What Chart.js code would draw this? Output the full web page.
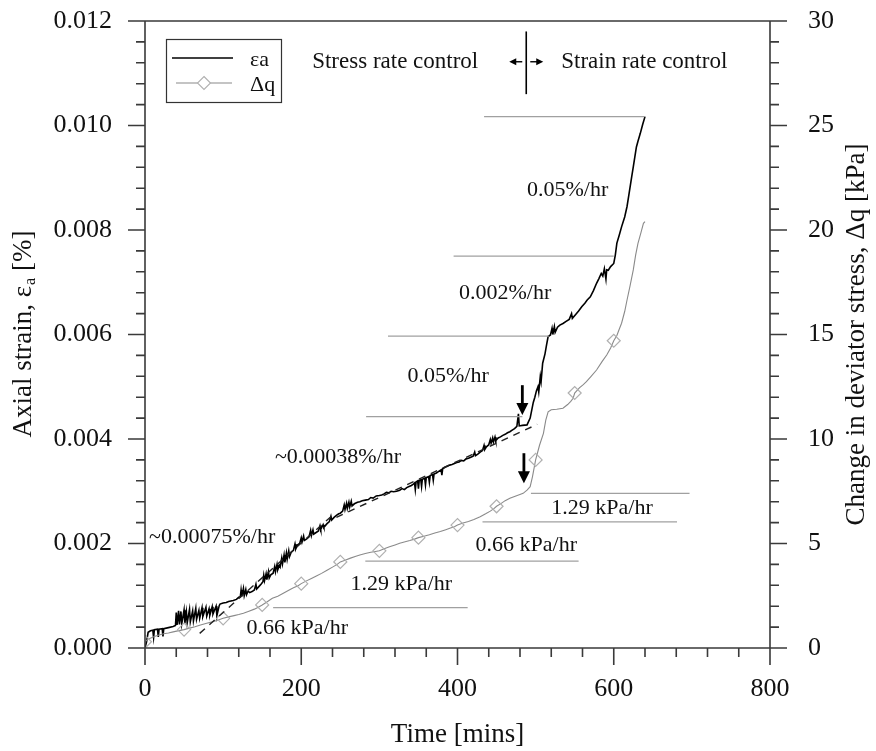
<!DOCTYPE html>
<html lang="en">
<head>
<meta charset="UTF-8">
<title>Axial strain and deviator stress vs time</title>
<script src="https://cdn.jsdelivr.net/npm/chart.js"></script>
<style>
  html, body { margin: 0; padding: 0; background: white; }
  #wrap { width: 876px; height: 751px; position: relative; }
</style>
</head>
<body>
<div id="wrap"><canvas id="grafico"></canvas></div>
<script>
// axial strain (black line), [time min, strain %]
const strainPoints = [
  [0,0],[2,0.00012],[4,0.00030],[7,0.00033],[10,0.00034],[11,0.00020],[12,0.00035],[16,0.00036],[17,0.00021],[18,0.00036],
  [22,0.00037],[23,0.00022],[24,0.00037],[30,0.00039],[36,0.00041],[39,0.00043],[40,0.00068],[41,0.00044],[43,0.00071],[44,0.00045],
  [46,0.00070],[47,0.00046],[50,0.00073],[51,0.00047],[53,0.00069],[54,0.00048],[57,0.00074],[58,0.00050],[61,0.00071],[62,0.00052],
  [65,0.00076],[66,0.00055],[69,0.00072],[70,0.00057],[73,0.00077],[74,0.00060],[78,0.00078],[79,0.00061],[82,0.00075],[83,0.00063],
  [86,0.00079],[87,0.00065],[91,0.00080],[92,0.00062],[95,0.00081],[96,0.00084],
  [100,0.00086],[104,0.00087],[107,0.00089],[110,0.00090],[113,0.00091],[117,0.00093],[120,0.00097],[122,0.00098],[123,0.00111],[124,0.00099],
  [126,0.00114],[127,0.00100],[129,0.00112],[130,0.00102],[132,0.00109],[134,0.00106],[137,0.00108],[140,0.00111],[142,0.00122],[143,0.00113],
  [146,0.00118],[149,0.00123],[151,0.00127],[152,0.00139],[153,0.00129],[155,0.00142],[156,0.00131],[158,0.00146],[159,0.00134],[161,0.00140],
  [164,0.00143],[166,0.00156],[167,0.00146],[169,0.00160],[170,0.00150],[172,0.00158],[173,0.00155],[175,0.00172],[176,0.00161],[178,0.00178],
  [179,0.00164],[181,0.00182],[182,0.00170],[184,0.00186],[185,0.00175],[187,0.00183],[190,0.00187],[192,0.00199],[193,0.00190],[195,0.00197],
  [198,0.00200],[200,0.00211],[201,0.00203],[203,0.00214],[204,0.00206],[207,0.00209],[210,0.00213],[212,0.00225],[213,0.00215],[215,0.00226],
  [216,0.00218],[219,0.00221],[222,0.00224],[224,0.00234],[225,0.00227],[228,0.00236],[229,0.00231],[233,0.00238],[236,0.00242],[238,0.00252],
  [239,0.00245],[242,0.00250],[245,0.00254],[248,0.00257],
  [250,0.00258],[253,0.00262],[255,0.00274],[256,0.00265],[258,0.00277],[259,0.00267],[261,0.00279],[262,0.00270],[264,0.00281],[265,0.00272],
  [268,0.00276],[272,0.00279],[275,0.00280],[278,0.00282],[282,0.00283],[286,0.00284],[289,0.00288],[292,0.00287],[296,0.00291],[300,0.00292],
  [303,0.00293],[306,0.00295],[309,0.00298],[312,0.00297],[315,0.00300],[318,0.00299],[322,0.00300],[326,0.00302],[329,0.00305],[332,0.00303],
  [335,0.00307],[338,0.00309],[341,0.00311],[343,0.00313],[345,0.00316],[346,0.00303],[347,0.00318],[349,0.00320],[350,0.00305],[351,0.00321],
  [353,0.00322],[354,0.00309],[355,0.00323],[358,0.00325],[359,0.00312],[360,0.00326],[363,0.00328],[364,0.00317],[365,0.00330],[368,0.00332],
  [369,0.00321],[370,0.00333],[373,0.00335],[376,0.00338],[379,0.00341],[380,0.00331],[381,0.00343],[384,0.00346],[387,0.00348],[390,0.00350],
  [393,0.00351],[396,0.00353],[399,0.00355],
  [402,0.00356],[405,0.00359],[408,0.00358],[411,0.00362],[414,0.00363],[417,0.00365],[420,0.00367],[422,0.00375],[423,0.00368],[426,0.00371],
  [429,0.00375],[432,0.00378],[434,0.00388],[435,0.00380],[437,0.00385],[440,0.00389],[442,0.00399],[443,0.00392],[445,0.00402],[446,0.00394],
  [448,0.00404],[449,0.00397],[452,0.00402],[455,0.00404],[458,0.00407],[461,0.00409],[464,0.00412],[467,0.00414],[470,0.00417],[473,0.00420],
  [476,0.00424],[478,0.00448],[479,0.00425],[483,0.00426],[489,0.00427],
  [493,0.00440],[497,0.00470],[499,0.00480],[501,0.00492],[503,0.00500],[504,0.00490],[506,0.00520],[507,0.00510],[509,0.00545],[512,0.00563],
  [514,0.00580],[516,0.00596],[519,0.00599],[521,0.00612],[522,0.00600],[524,0.00615],[525,0.00604],[528,0.00614],[531,0.00618],[535,0.00621],
  [539,0.00625],[543,0.00629],[546,0.00640],[547,0.00631],[551,0.00638],[555,0.00645],[559,0.00653],[563,0.00660],[566,0.00666],[570,0.00672],
  [574,0.00684],[578,0.00698],[581,0.00707],[584,0.00717],[586,0.00712],[588,0.00726],[590,0.00706],[591,0.00724],[593,0.00723],[596,0.00730],
  [600,0.00736],[602,0.00752],[604,0.00775],[607,0.00790],[610,0.00806],[614,0.00825],[617,0.00845],[619,0.00864],[621,0.00883],[623,0.00902],
  [625,0.00921],[627,0.00940],[629,0.00959],[631,0.00970],[634,0.00985],[637,0.01002],[640,0.01017]
];

// change in deviator stress (grey line, diamonds every 50 min), [time min, kPa]
const dqPoints = [
  [0,0.3],[3,0.4],[6,0.46],[12,0.55],[18,0.62],[24,0.68],[30,0.72],[36,0.77],[42,0.82],[50,0.88],
  [57,0.95],[64,1.02],[71,1.1],[79,1.18],[86,1.25],[93,1.33],[100,1.42],[107,1.49],[114,1.55],[120,1.6],
  [126,1.66],[133,1.76],[140,1.86],[145,1.95],[150,2.06],[156,2.2],[163,2.38],[170,2.48],[177,2.62],[184,2.76],
  [190,2.88],[196,2.98],[200,3.08],[206,3.2],[213,3.33],[220,3.46],[226,3.57],[233,3.72],[240,3.87],[246,4.0],
  [250,4.12],[256,4.2],[263,4.3],[269,4.38],[275,4.45],[282,4.52],[289,4.58],[295,4.62],[300,4.65],[307,4.76],
  [313,4.84],[320,4.93],[326,5.01],[333,5.08],[339,5.14],[345,5.21],[350,5.28],[357,5.35],[364,5.42],[371,5.5],
  [378,5.57],[385,5.66],[391,5.74],[396,5.8],[400,5.88],[407,5.98],[414,6.05],[421,6.15],[429,6.28],[436,6.42],
  [442,6.55],[447,6.68],[450,6.78],[456,6.92],[461,7.05],[467,7.16],[473,7.25],[479,7.33],[484,7.4],[489,7.55],
  [493,7.72],[496,8.2],[500,9.0],[505,9.7],[510,10.27],[513,10.9],[516,11.3],[520,11.4],[527,11.42],[535,11.47],
  [541,11.65],[545,11.8],[548,11.95],[550,12.2],[556,12.45],[561,12.6],[565,12.74],[571,13.0],[578,13.3],[585,13.7],
  [591,14.02],[596,14.35],[600,14.7],[604,14.95],[607,15.25],[610,15.54],[614,16.1],[617,16.65],[621,17.35],[625,18.09],
  [628,18.8],[631,19.36],[635,19.9],[638,20.32],[640,20.4]
];
const dqMarkerStep = 50;

// horizontal reference lines [from, to, level]
const refStrain = [[434, 639, 0.01017], [395, 600, 0.0075], [311, 517, 0.00597], [283, 483, 0.00443]];
const refDq = [[494, 697, 7.4], [432, 681, 6.03], [282, 555, 4.16], [164, 413, 1.93]];
// dashed trend lines [t0, strain0, t1, strain1]
const trendStrain = [[70, 0.00028, 240, 0.00254], [245, 0.00250, 502, 0.00428]];

// rate labels [text, time, value, axis]
const rateLabels = [
  ['0.05%/hr', 541, 0.00877, 'y'],
  ['0.002%/hr', 461, 0.00679, 'y'],
  ['0.05%/hr', 388, 0.00520, 'y'],
  ['~0.00038%/hr', 247, 0.00366, 'y'],
  ['~0.00075%/hr', 86, 0.00212, 'y'],
  ['1.29 kPa/hr', 585, 6.70, 'yR'],
  ['0.66 kPa/hr', 488, 4.93, 'yR'],
  ['1.29 kPa/hr', 328, 3.06, 'yR'],
  ['0.66 kPa/hr', 195, 0.96, 'yR']
];
// down arrows [time, from, to, axis]
const downArrows = [[483, 0.00503, 0.00446, 'y'], [485, 9.32, 7.88, 'yR']];
// control switch at top
const switchTime = 488;
const switchTop = 0.0118, switchBottom = 0.0106, switchLevel = 0.01122;

const FONT = "'Liberation Serif', 'Times New Roman', serif";
const GREY_REF = '#a0a0a0';

const datasets = [];
refStrain.forEach(r => datasets.push({
  data: [{x: r[0], y: r[2]}, {x: r[1], y: r[2]}], yAxisID: 'y',
  borderColor: GREY_REF, borderWidth: 1.3, pointRadius: 0
}));
refDq.forEach(r => datasets.push({
  data: [{x: r[0], y: r[2]}, {x: r[1], y: r[2]}], yAxisID: 'yR',
  borderColor: GREY_REF, borderWidth: 1.3, pointRadius: 0
}));
trendStrain.forEach(r => datasets.push({
  data: [{x: r[0], y: r[1]}, {x: r[2], y: r[3]}], yAxisID: 'y',
  borderColor: '#222', borderWidth: 1.4, borderDash: [7, 6], pointRadius: 0
}));
datasets.push({
  label: 'Δq',
  data: dqPoints.map(p => ({x: p[0], y: p[1]})), yAxisID: 'yR',
  borderColor: '#8a8a8a', borderWidth: 1.1, pointStyle: 'rectRot',
  pointRadius: c => (c.raw && c.raw.x % dqMarkerStep === 0 ? 6.5 : 0),
  pointBorderColor: '#b0b0b0', pointBackgroundColor: 'rgba(255,255,255,0)', pointBorderWidth: 1.2
});
datasets.push({
  label: 'εa',
  data: strainPoints.map(p => ({x: p[0], y: p[1]})), yAxisID: 'y',
  borderColor: '#000', borderWidth: 1.6, pointRadius: 0
});

function seta(ctx, x0, y0, x1, y1, head, w) {
  const ang = Math.atan2(y1 - y0, x1 - x0);
  ctx.lineWidth = w;
  ctx.beginPath();
  ctx.moveTo(x0, y0);
  ctx.lineTo(x1 - Math.cos(ang) * head * 0.8, y1 - Math.sin(ang) * head * 0.8);
  ctx.stroke();
  ctx.beginPath();
  ctx.moveTo(x1, y1);
  ctx.lineTo(x1 - Math.cos(ang) * head - Math.sin(ang) * head * 0.5, y1 - Math.sin(ang) * head + Math.cos(ang) * head * 0.5);
  ctx.lineTo(x1 - Math.cos(ang) * head + Math.sin(ang) * head * 0.5, y1 - Math.sin(ang) * head - Math.cos(ang) * head * 0.5);
  ctx.closePath();
  ctx.fill();
}

const extras = {
  id: 'extras',
  afterDraw(chart) {
    const ctx = chart.ctx, a = chart.chartArea;
    const xs = chart.scales.x, yl = chart.scales.y, yr = chart.scales.yR;
    ctx.save();

    // frame and tick marks
    ctx.strokeStyle = '#3a3a3a';
    ctx.lineWidth = 1.6;
    ctx.beginPath();
    ctx.moveTo(a.left - 17, a.top); ctx.lineTo(a.right + 17, a.top);
    ctx.moveTo(a.left - 17, a.bottom); ctx.lineTo(a.right + 17, a.bottom);
    ctx.moveTo(a.left, a.top); ctx.lineTo(a.left, a.bottom + 17);
    ctx.moveTo(a.right, a.top); ctx.lineTo(a.right, a.bottom + 17);
    for (let v = 0; v <= 800; v += 40) {
      const px = xs.getPixelForValue(v);
      ctx.moveTo(px, a.bottom); ctx.lineTo(px, a.bottom + (v % 200 === 0 ? 17 : 9));
    }
    for (let i = 0; i <= 30; i++) {
      const pl = yl.getPixelForValue(i * 0.0004);
      ctx.moveTo(a.left, pl); ctx.lineTo(a.left - (i % 5 === 0 ? 17 : 9), pl);
      const pr = yr.getPixelForValue(i);
      ctx.moveTo(a.right, pr); ctx.lineTo(a.right + (i % 5 === 0 ? 17 : 9), pr);
    }
    ctx.stroke();

    // rate labels
    ctx.fillStyle = '#111';
    ctx.font = '22px ' + FONT;
    ctx.textAlign = 'center';
    ctx.textBaseline = 'middle';
    rateLabels.forEach(l => {
      const sc = l[3] === 'y' ? yl : yr;
      ctx.fillText(l[0], xs.getPixelForValue(l[1]), sc.getPixelForValue(l[2]));
    });

    // down arrows
    ctx.strokeStyle = '#000';
    ctx.fillStyle = '#000';
    downArrows.forEach(d => {
      const sc = d[3] === 'y' ? yl : yr;
      const px = xs.getPixelForValue(d[0]);
      seta(ctx, px, sc.getPixelForValue(d[1]), px, sc.getPixelForValue(d[2]), 12, 2.8);
    });

    // stress / strain control marker
    const sx = xs.getPixelForValue(switchTime);
    const sy = yl.getPixelForValue(switchLevel);
    ctx.lineWidth = 1.6;
    ctx.beginPath();
    ctx.moveTo(sx, yl.getPixelForValue(switchTop));
    ctx.lineTo(sx, yl.getPixelForValue(switchBottom));
    ctx.stroke();
    seta(ctx, sx - 4, sy, sx - 17, sy, 7, 1.4);
    seta(ctx, sx + 4, sy, sx + 17, sy, 7, 1.4);
    ctx.fillStyle = '#111';
    ctx.font = '23px ' + FONT;
    ctx.textAlign = 'right';
    ctx.fillText('Stress rate control', sx - 48, sy);
    ctx.textAlign = 'left';
    ctx.fillText('Strain rate control', sx + 35, sy);

    // legend
    const lx = a.left + 21, ly = a.top + 18;
    ctx.strokeStyle = '#333';
    ctx.lineWidth = 1.2;
    ctx.strokeRect(lx + 0.5, ly + 0.5, 115, 63);
    ctx.strokeStyle = '#000';
    ctx.lineWidth = 1.4;
    ctx.beginPath();
    ctx.moveTo(lx + 6, ly + 19); ctx.lineTo(lx + 67, ly + 19);
    ctx.stroke();
    ctx.strokeStyle = '#8a8a8a';
    ctx.lineWidth = 1.1;
    ctx.beginPath();
    ctx.moveTo(lx + 10, ly + 44); ctx.lineTo(lx + 66, ly + 44);
    ctx.stroke();
    ctx.strokeStyle = '#b0b0b0';
    ctx.fillStyle = '#fff';
    ctx.beginPath();
    ctx.moveTo(lx + 38, ly + 37.5); ctx.lineTo(lx + 44.5, ly + 44);
    ctx.lineTo(lx + 38, ly + 50.5); ctx.lineTo(lx + 31.5, ly + 44);
    ctx.closePath();
    ctx.fill(); ctx.stroke();
    ctx.fillStyle = '#111';
    ctx.font = '22px ' + FONT;
    ctx.textAlign = 'left';
    ctx.textBaseline = 'alphabetic';
    ctx.fillText('εa', lx + 84, ly + 27);
    ctx.fillText('Δq', lx + 84, ly + 52);

    // y axis titles
    const cy = (a.top + a.bottom) / 2;
    ctx.font = '27px ' + FONT;
    ctx.textBaseline = 'middle';
    ctx.save();
    ctx.translate(24, cy);
    ctx.rotate(-Math.PI / 2);
    const p1 = 'Axial strain, ε', p2 = 'a', p3 = ' [%]';
    ctx.font = '27px ' + FONT;
    const w1 = ctx.measureText(p1).width, w3 = ctx.measureText(p3).width;
    ctx.font = '16px ' + FONT;
    const w2 = ctx.measureText(p2).width;
    let x0 = -(w1 + w2 + w3) / 2;
    ctx.font = '27px ' + FONT;
    ctx.textAlign = 'left';
    ctx.fillText(p1, x0, 0);
    ctx.font = '16px ' + FONT;
    ctx.fillText(p2, x0 + w1 + 1, 7);
    ctx.font = '27px ' + FONT;
    ctx.fillText(p3, x0 + w1 + w2 + 1, 0);
    ctx.restore();

    ctx.save();
    ctx.translate(857, cy);
    ctx.rotate(-Math.PI / 2);
    ctx.textAlign = 'center';
    ctx.fillText('Change in deviator stress, Δq [kPa]', 0, 0);
    ctx.restore();

    ctx.restore();
  }
};

// keep the tick labels from pushing the plot area down
function fixVertical(width) {
  return s => { s.width = width; s.paddingTop = 0; s.paddingBottom = 0; };
}

new Chart(document.getElementById('grafico'), {
  type: 'line',
  data: { datasets: datasets },
  plugins: [extras],
  options: {
    responsive: true,
    maintainAspectRatio: false,
    animation: false,
    devicePixelRatio: 1,
    layout: { padding: { top: 21, left: 0, right: 0, bottom: 0 } },
    plugins: { legend: { display: false }, tooltip: { enabled: false } },
    scales: {
      x: {
        type: 'linear', position: 'bottom', min: 0, max: 800,
        afterFit: s => { s.height = 103; s.paddingLeft = 0; s.paddingRight = 0; },
        grid: { display: false, drawTicks: false }, border: { display: false },
        ticks: { stepSize: 200, padding: 26, maxRotation: 0, color: '#111', font: { family: FONT, size: 26 } },
        title: { display: true, text: 'Time [mins]', color: '#111', font: { family: FONT, size: 27 }, padding: { top: 0, bottom: 0 } }
      },
      y: {
        type: 'linear', position: 'left', min: 0, max: 0.012,
        afterFit: fixVertical(145),
        grid: { display: false, drawTicks: false }, border: { display: false },
        ticks: { stepSize: 0.002, padding: 33, color: '#111', font: { family: FONT, size: 26 }, callback: v => v.toFixed(3) }
      },
      yR: {
        type: 'linear', position: 'right', min: 0, max: 30,
        afterFit: fixVertical(106),
        grid: { display: false, drawTicks: false }, border: { display: false },
        ticks: { stepSize: 5, padding: 38, color: '#111', font: { family: FONT, size: 26 } }
      }
    }
  }
});
</script>
</body>
</html>
